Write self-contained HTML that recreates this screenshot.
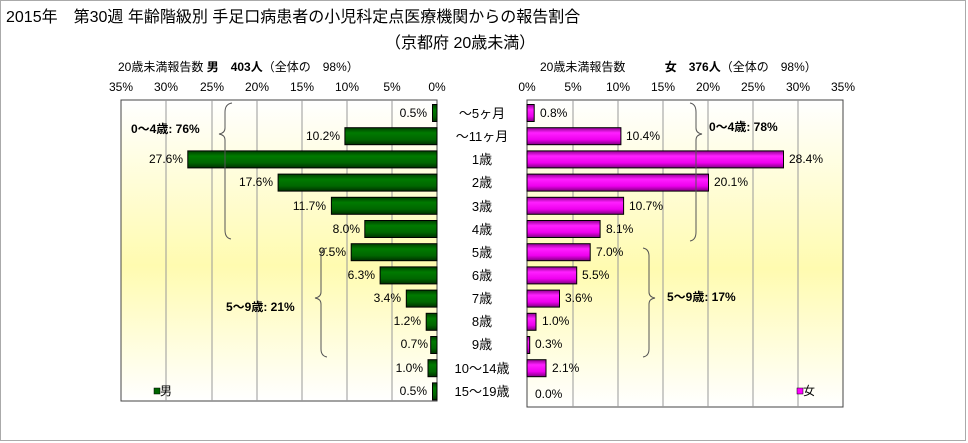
<!DOCTYPE html>
<html><head><meta charset="utf-8"><style>
body{margin:0;background:#fff}
svg{display:block;font-family:"Liberation Sans","Noto Sans CJK JP",sans-serif}
</style></head><body>
<svg width="968" height="443" viewBox="0 0 968 443" xmlns="http://www.w3.org/2000/svg">
<defs>
<linearGradient id="bg" x1="0" y1="0" x2="0" y2="1">
<stop offset="0" stop-color="#ffffff"/><stop offset="0.55" stop-color="#fffbb0"/><stop offset="1" stop-color="#ffffff"/>
</linearGradient>
<linearGradient id="gr" x1="0" y1="0" x2="0" y2="1">
<stop offset="0" stop-color="#004000"/><stop offset="0.3" stop-color="#007a00"/><stop offset="0.7" stop-color="#006600"/><stop offset="1" stop-color="#003000"/>
</linearGradient>
<linearGradient id="mg" x1="0" y1="0" x2="0" y2="1">
<stop offset="0" stop-color="#900090"/><stop offset="0.3" stop-color="#ff20ff"/><stop offset="0.7" stop-color="#ee00ee"/><stop offset="1" stop-color="#800080"/>
</linearGradient>
</defs>
<rect x="0.5" y="0.5" width="965" height="440" fill="#fff" stroke="#aaa"/>
<text x="6" y="22" font-size="16">2015年　第30週 年齢階級別 手足口病患者の小児科定点医療機関からの報告割合</text>
<text x="385" y="48" font-size="16">（京都府 20歳未満）</text>
<text x="118" y="71" font-size="12">20歳未満報告数 <tspan font-weight="bold">男　403人</tspan>（全体の　98%）</text>
<text x="540" y="71" font-size="12">20歳未満報告数　　　 <tspan font-weight="bold">女　376人</tspan>（全体の　98%）</text>
<g font-size="12" text-anchor="middle">
<text x="121" y="91">35%</text><text x="166" y="91">30%</text><text x="212" y="91">25%</text><text x="257" y="91">20%</text><text x="302" y="91">15%</text><text x="347" y="91">10%</text><text x="392" y="91">5%</text><text x="437" y="91">0%</text>
<text x="527" y="91">0%</text><text x="573" y="91">5%</text><text x="618" y="91">10%</text><text x="663" y="91">15%</text><text x="708" y="91">20%</text><text x="753" y="91">25%</text><text x="798" y="91">30%</text><text x="843" y="91">35%</text>
</g>
<rect x="121" y="100" width="316" height="301" fill="url(#bg)" stroke="#444"/>
<rect x="527" y="100" width="316" height="307" fill="url(#bg)" stroke="#444"/>
<g stroke="#999" stroke-width="1">
<line x1="166" y1="100" x2="166" y2="401"/><line x1="212" y1="100" x2="212" y2="401"/><line x1="257" y1="100" x2="257" y2="401"/><line x1="302" y1="100" x2="302" y2="401"/><line x1="347" y1="100" x2="347" y2="401"/><line x1="392" y1="100" x2="392" y2="401"/>
<line x1="573" y1="100" x2="573" y2="407"/><line x1="618" y1="100" x2="618" y2="407"/><line x1="663" y1="100" x2="663" y2="407"/><line x1="708" y1="100" x2="708" y2="407"/><line x1="753" y1="100" x2="753" y2="407"/><line x1="798" y1="100" x2="798" y2="407"/>
</g>
<g stroke="#000" stroke-width="1" fill="url(#gr)">
<rect x="432.5" y="104.5" width="4.5" height="17"/>
<rect x="344.9" y="127.7" width="92.1" height="17"/>
<rect x="187.8" y="150.9" width="249.2" height="17"/>
<rect x="278.1" y="174.1" width="158.9" height="17"/>
<rect x="331.4" y="197.3" width="105.6" height="17"/>
<rect x="364.8" y="220.5" width="72.2" height="17"/>
<rect x="351.2" y="243.7" width="85.8" height="17"/>
<rect x="380.1" y="266.9" width="56.9" height="17"/>
<rect x="406.3" y="290.1" width="30.7" height="17"/>
<rect x="426.2" y="313.3" width="10.8" height="17"/>
<rect x="430.7" y="336.5" width="6.3" height="17"/>
<rect x="428" y="359.7" width="9" height="17"/>
<rect x="432.5" y="382.9" width="4.5" height="17"/>
</g>
<g stroke="#000" stroke-width="1" fill="url(#mg)">
<rect x="527" y="104.5" width="7.2" height="17"/>
<rect x="527" y="127.7" width="93.9" height="17"/>
<rect x="527" y="150.9" width="256.5" height="17"/>
<rect x="527" y="174.1" width="181.5" height="17"/>
<rect x="527" y="197.3" width="96.6" height="17"/>
<rect x="527" y="220.5" width="73.1" height="17"/>
<rect x="527" y="243.7" width="63.2" height="17"/>
<rect x="527" y="266.9" width="49.7" height="17"/>
<rect x="527" y="290.1" width="32.5" height="17"/>
<rect x="527" y="313.3" width="9" height="17"/>
<rect x="527" y="336.5" width="2.7" height="17"/>
<rect x="527" y="359.7" width="19" height="17"/>
</g>
<g font-size="12" text-anchor="end">
<text x="427" y="117">0.5%</text><text x="340" y="140">10.2%</text><text x="183" y="163">27.6%</text><text x="273" y="186">17.6%</text><text x="326" y="210">11.7%</text><text x="360" y="233">8.0%</text><text x="346" y="256">9.5%</text><text x="375" y="279">6.3%</text><text x="401" y="302">3.4%</text><text x="421" y="325">1.2%</text><text x="428" y="348">0.7%</text><text x="423" y="372">1.0%</text><text x="427" y="395">0.5%</text>
</g>
<g font-size="12">
<text x="540" y="117">0.8%</text><text x="626" y="140">10.4%</text><text x="789" y="163">28.4%</text><text x="714" y="186">20.1%</text><text x="629" y="210">10.7%</text><text x="606" y="233">8.1%</text><text x="596" y="256">7.0%</text><text x="582" y="279">5.5%</text><text x="565" y="302">3.6%</text><text x="542" y="325">1.0%</text><text x="535" y="348">0.3%</text><text x="552" y="372">2.1%</text><text x="535" y="398">0.0%</text>
</g>
<g font-size="13" text-anchor="middle">
<text x="482" y="118">～5ヶ月</text><text x="482" y="141">～11ヶ月</text><text x="482" y="164">1歳</text><text x="482" y="187">2歳</text><text x="482" y="211">3歳</text><text x="482" y="234">4歳</text><text x="482" y="257">5歳</text><text x="482" y="280">6歳</text><text x="482" y="303">7歳</text><text x="482" y="326">8歳</text><text x="482" y="349">9歳</text><text x="482" y="373">10～14歳</text><text x="482" y="396">15～19歳</text>
</g>
<g fill="none" stroke="#555" stroke-width="1">
<path d="M232 103 Q225 104 225 112 L225 128 Q225 133 219 134 Q225 135 225 140 L225 230 Q225 238 231 239"/>
<path d="M327 248 Q321 249 321 256 L321 292 Q321 297 315 298 Q321 299 321 304 L321 349 Q321 356 327 357"/>
<path d="M690 103 Q696 104 696 112 L696 128 Q696 133 702 134 Q696 135 696 140 L696 232 Q696 240 690 241"/>
<path d="M643 248 Q649 249 649 256 L649 292 Q649 297 655 298 Q649 299 649 304 L649 349 Q649 356 643 357"/>
</g>
<g font-size="12" font-weight="bold">
<text x="131" y="133">0～4歳: 76%</text>
<text x="226" y="311">5～9歳: 21%</text>
<text x="709" y="131">0～4歳: 78%</text>
<text x="667" y="301">5～9歳: 17%</text>
</g>
<rect x="154" y="388" width="6" height="6" fill="#006600" stroke="#000" stroke-width="0.5"/>
<text x="160" y="395" font-size="12">男</text>
<rect x="797" y="388" width="6" height="6" fill="#ff00ff" stroke="#000" stroke-width="0.5"/>
<text x="803" y="395" font-size="12">女</text>
</svg>
</body></html>
